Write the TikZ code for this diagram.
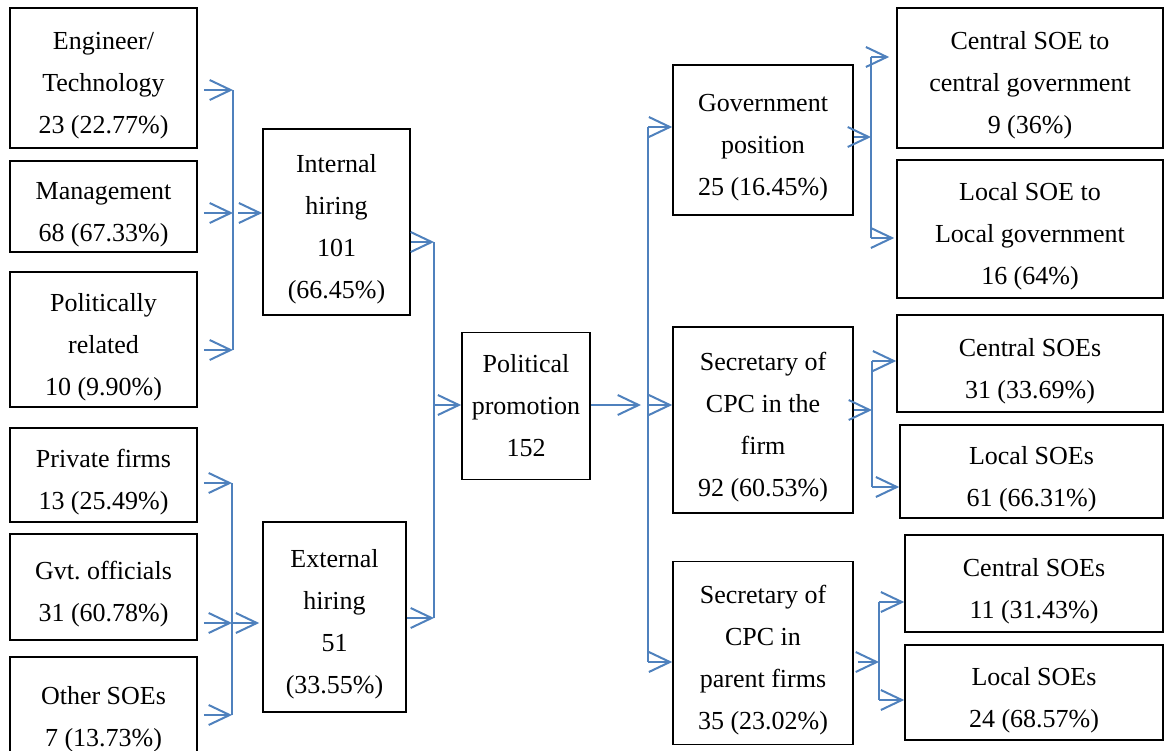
\documentclass[tikz,border=0pt]{standalone}
\usepackage{fontspec}
\setmainfont{Liberation Serif}
\usetikzlibrary{arrows.meta}
\definecolor{linkblue}{RGB}{79,129,189}
\newcommand{\tp}{\rule{0pt}{33pt}}
\tikzset{
  box/.style={draw, line width=1.6pt, align=center, inner sep=0pt, font=\fontsize{26}{42}\selectfont},
  arr/.style={draw=linkblue, line width=2pt, -{Straight Barb[length=21pt,width=20pt]}},
  bus/.style={draw=linkblue, line width=2pt},
}
\begin{document}
\begin{tikzpicture}[x=1pt,y=-1pt]
\useasboundingbox (0,0) rectangle (1165,750);
% left column
\node[box, minimum width=187pt, minimum height=140pt] (eng) at (103.5,78) {\tp Engineer/\\Technology\\23 (22.77\%)};
\node[box, minimum width=187pt, minimum height=91pt] (mgmt) at (103.5,206.5) {\tp Management\\68 (67.33\%)};
\node[box, minimum width=187pt, minimum height=135pt] (pol) at (103.5,339.5) {\tp Politically\\related\\10 (9.90\%)};
\node[box, minimum width=187pt, minimum height=94pt] (priv) at (103.5,475) {\tp Private firms\\13 (25.49\%)};
\node[box, minimum width=187pt, minimum height=106pt] (gvt) at (103.5,587) {\tp Gvt.\ officials\\31 (60.78\%)};
\node[box, minimum width=187pt, minimum height=110pt] (oth) at (103.5,712) {\tp Other SOEs\\7 (13.73\%)};
% hiring
\node[box, minimum width=147pt, minimum height=186pt] (inhire) at (336.5,222) {\tp Internal\\hiring\\101\\(66.45\%)};
\node[box, minimum width=143pt, minimum height=190pt] (exhire) at (334.5,617) {\tp External\\hiring\\51\\(33.55\%)};
% centre
\node[box, minimum width=128pt, minimum height=147pt] (pp) at (526,406) {Political\\promotion\\152};
% positions
\node[box, minimum width=180pt, minimum height=150pt] (gov) at (763,140) {\tp Government\\position\\25 (16.45\%)};
\node[box, minimum width=180pt, minimum height=186pt] (secf) at (763,420) {\tp Secretary of\\CPC in the\\firm\\92 (60.53\%)};
\node[box, minimum width=180pt, minimum height=183pt] (secp) at (763,653) {\tp Secretary of\\CPC in\\parent firms\\35 (23.02\%)};
% right column
\node[box, minimum width=266pt, minimum height=140pt] (cgov) at (1030,78) {\tp Central SOE to\\central government\\9 (36\%)};
\node[box, minimum width=266pt, minimum height=138pt] (lgov) at (1030,229) {\tp Local SOE to\\Local government\\16 (64\%)};
\node[box, minimum width=266pt, minimum height=97pt] (csa) at (1030,363.5) {\tp Central SOEs\\31 (33.69\%)};
\node[box, minimum width=263pt, minimum height=93pt] (lsa) at (1031.5,471.5) {\tp Local SOEs\\61 (66.31\%)};
\node[box, minimum width=258pt, minimum height=97pt] (csb) at (1034,583.5) {\tp Central SOEs\\11 (31.43\%)};
\node[box, minimum width=258pt, minimum height=95pt] (lsb) at (1034,692.5) {\tp Local SOEs\\24 (68.57\%)};
% junctions
\coordinate (ja) at (233,90);
\coordinate (jm) at (233,213);
\coordinate (jb) at (233,350);
\coordinate (jc) at (232,483);
\coordinate (jg) at (232,623);
\coordinate (jd) at (232,715);
\coordinate (je) at (434,242);
\coordinate (jp) at (434,405);
\coordinate (jf) at (434,618);
\coordinate (ga) at (648,127);
\coordinate (gm) at (648,405);
\coordinate (gb) at (648,662);
\coordinate (ka) at (871,57);
\coordinate (km) at (871,137);
\coordinate (kb) at (871,238);
\coordinate (kc) at (872,361);
\coordinate (kn) at (872,410);
\coordinate (kd) at (872,487);
\coordinate (ke) at (879,602);
\coordinate (ko) at (879,662);
\coordinate (kf) at (879,700);
% left connectors
\draw[bus] (ja) -- (jb);
\draw[arr, shorten <=6pt] (eng.east |- ja) -- (ja);
\draw[arr, shorten <=6pt] (mgmt.east |- jm) -- (jm);
\draw[arr, shorten <=6pt] (pol.east |- jb) -- (jb);
\draw[arr, shorten <=5pt] (jm) -- (inhire.west |- jm);
\draw[bus] (jc) -- (jd);
\draw[arr, shorten <=6pt] (priv.east |- jc) -- (jc);
\draw[arr, shorten <=6pt] (gvt.east |- jg) -- (jg);
\draw[arr, shorten <=6pt] (oth.east |- jd) -- (jd);
\draw[arr, shorten >=3pt] (jg) -- (exhire.west |- jg);
% middle connectors
\draw[bus] (je) -- (jf);
\draw[arr] (inhire.east |- je) -- (je);
\draw[arr] (exhire.east |- jf) -- (jf);
\draw[arr] (jp) -- (pp.west |- jp);
% right connectors
\draw[bus] (ga) -- (gb);
\draw[arr] (pp.east |- gm) -- ([xshift=-7pt]gm);
\draw[arr] (gm) -- (secf.west |- gm);
\draw[arr] (ga) -- (gov.west |- ga);
\draw[arr] (gb) -- (secp.west |- gb);
\draw[bus] (ka) -- (kb);
\draw[arr] (gov.east |- km) -- (km);
\draw[arr, shorten >=7pt] (ka) -- (cgov.west |- ka);
\draw[arr, shorten >=2pt] (kb) -- (lgov.west |- kb);
\draw[bus] (kc) -- (kd);
\draw[arr] (secf.east |- kn) -- (kn);
\draw[arr] (kc) -- (csa.west |- kc);
\draw[arr] (kd) -- (lsa.west |- kd);
\draw[bus] (ke) -- (kf);
\draw[arr, shorten <=4pt] (secp.east |- ko) -- (ko);
\draw[arr] (ke) -- (csb.west |- ke);
\draw[arr] (kf) -- (lsb.west |- kf);
\end{tikzpicture}
\end{document}
